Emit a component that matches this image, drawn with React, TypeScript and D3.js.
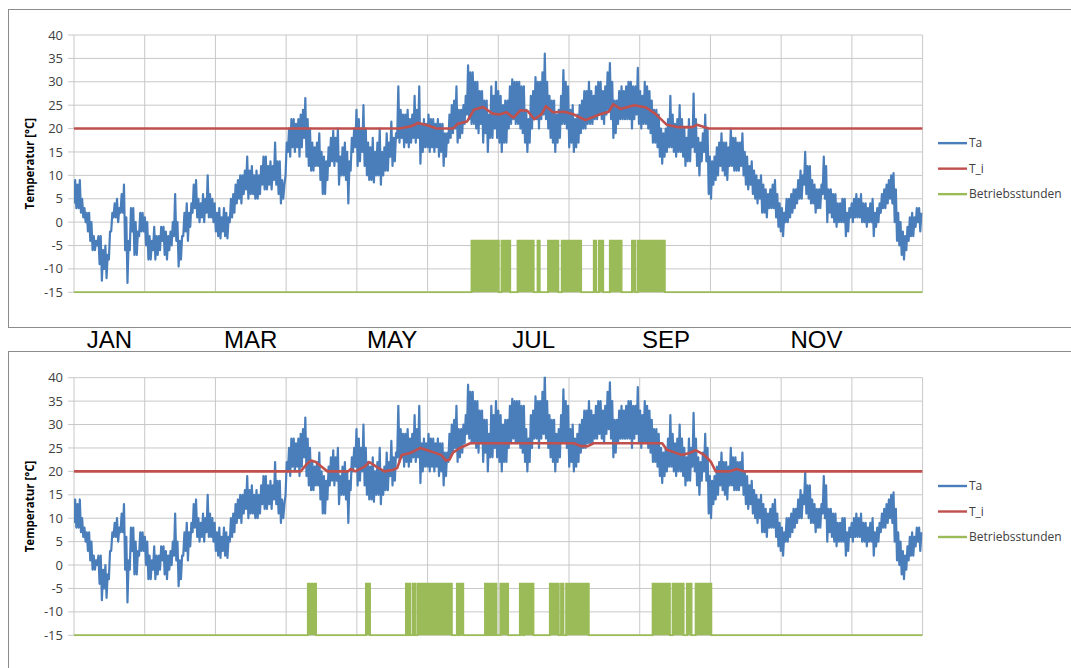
import * as d3 from 'd3'
import React from 'react'

const WIDTH = 1071
const HEIGHT = 668

const Y_TICKS = [-15, -10, -5, 0, 5, 10, 15, 20, 25, 30, 35, 40]
const MONTH_LABELS = [
  { month: 0, label: 'JAN', nudge: 0 },
  { month: 2, label: 'MAR', nudge: 0 },
  { month: 4, label: 'MAY', nudge: 0 },
  { month: 6, label: 'JUL', nudge: 0 },
  { month: 8, label: 'SEP', nudge: -9 },
  { month: 10, label: 'NOV', nudge: 0 },
]
const SERIES_NAMES = ['Ta', 'T_i', 'Betriebsstunden']
const COLORS = { ta: '#4a7ebb', ti: '#c0504d', hours: '#9bbb59' }

// outdoor temperature, daily [low, high], reference year
const taJan = [[4, 9], [3, 8], [3, 9], [2, 5], [1, 3], [0, 2], [-2, 2], [-4, 0], [-6, -3], [-6, -4], [-5, -3], [-9, -3], [-12.5, -6], [-10, -5], [-12, -7], [-8, -2], [-2, 2], [1, 4], [1, 5], [0, 3], [2, 6], [2, 8], [-6, 1], [-13, -4], [-6, 3], [-2, 3], [-7, 0], [-7, -2], [-3, 2], [-2, 2], [-2, 1]]
const taFeb = [[-5, 0], [-8, -3], [-8, -4], [-6, -1], [-8, -3], [-7, -3], [-6, -1], [-4, -1], [-7, -2], [-8, -3], [-6, -2], [-5, 0], [-3, 6], [-4, 0], [-9.5, -4], [-8, -3], [-3, 2], [-2, 4], [-4, 2], [-1, 4], [2, 8], [3, 9], [1, 5], [0, 4], [1, 6], [0, 5], [2, 10], [1, 6], [1, 5]]
const taMar = [[0, 4], [-2, 2], [-3, 3], [-3.5, 1], [-2, 3], [-3, 2], [-3.5, 1], [0, 5], [1, 6], [2, 8], [4, 9], [5, 10], [4, 10], [6, 11], [7, 14], [5, 11], [6, 12], [6, 10], [5, 11], [5, 10], [6, 12], [8, 14], [7, 14], [7, 12], [8, 13], [7, 12], [9, 17], [8, 13], [6, 13], [4, 9], [5, 8]]
const taApr = [[10, 17], [15, 20], [14, 22], [16, 22], [15, 21], [16, 22], [14, 23], [16, 24], [18, 26.5], [14, 22], [12, 20], [11, 17], [11, 16], [12, 17], [12, 19], [9, 15], [6, 14], [6, 13], [9, 16], [12, 18], [13, 19.5], [12, 18], [13, 20], [8, 14], [10, 16], [10, 17], [9, 15], [4, 13], [11, 18], [15, 20]]
const taMay = [[16, 24], [12, 22], [13, 20], [15, 25], [12, 20], [10, 17], [9, 16], [9, 18], [8.5, 15], [10, 17], [10, 20], [8, 15], [10, 16], [11, 19], [11, 17], [14, 21.5], [12, 18], [13, 19], [18, 29], [17, 24], [18, 23], [16, 23], [17, 24], [16, 22], [17, 23], [18, 27], [17, 24], [18, 29], [12.5, 21], [15, 22], [16, 21]]
const taJun = [[16, 23], [15, 22], [16, 22], [15, 21], [16, 22], [14, 21], [15, 21], [12, 19], [14, 19], [17, 23], [18, 25], [19, 26], [20, 29], [17, 24], [18, 24], [19, 25], [21, 27], [23, 33.5], [22, 32], [21, 32], [21, 30], [20, 30], [19, 28], [21, 28], [17, 26], [19, 26], [15, 23], [18, 29], [18, 27], [20, 30]]
const taJul = [[18, 28], [17, 27], [15, 25], [17, 26], [17, 26], [20, 29], [21, 30.5], [22, 30], [21, 30], [21, 30], [20, 29], [19, 29], [17, 24], [15, 22], [17, 27], [20, 28], [22, 31], [22, 30], [20, 30], [22, 32], [23, 36], [22, 30], [20, 27], [18, 26], [17, 26], [15, 23], [17, 24], [18, 27], [21, 32.5], [21, 30], [20, 29]]
const taAug = [[16, 24], [17, 25], [15, 22], [16, 23], [17, 25], [19, 26], [20, 28], [20, 28], [21, 30], [21, 28], [21, 27], [22, 29], [22, 30], [23, 30], [22, 28], [21, 29], [23, 32], [24, 34], [22, 30], [18, 26], [19, 26], [21, 28], [22, 29], [22, 28], [22, 29], [22, 30], [22, 30], [20, 29], [22, 29], [23, 33], [21, 28]]
const taSep = [[20, 27], [21, 30], [21, 29], [20, 28], [19, 26], [17, 24], [17, 24], [16, 23], [14, 20], [12.5, 19], [14, 20], [15, 22], [16, 27], [16, 23], [15, 21], [14, 22], [15, 25], [15, 22], [14, 20], [12, 18], [13, 22], [13, 20], [16, 27.5], [15, 22], [12, 18], [10, 17], [13, 19], [15, 23], [13, 20], [6, 14]]
const taOct = [[5, 13], [8, 14], [9, 16], [10, 17], [12, 19], [11, 17], [10, 17], [9, 16], [12, 20], [12, 18], [11, 18], [11, 17], [11, 17], [12, 19], [10, 15], [8, 14], [7, 12], [8, 13], [6, 11], [5, 10], [4, 9], [5, 10], [2, 8], [2, 7], [1, 6], [3, 7], [3, 8], [3, 9], [1, 6], [-1, 4], [-2, 3]]
const taNov = [[-3, 2], [0, 5], [0, 5], [1, 6], [2, 7], [3, 7], [4, 9], [5, 11], [5, 10], [8, 15], [6, 12], [5, 12], [4, 9], [4, 8], [2, 7], [3, 7], [3, 8], [6, 14], [5, 12], [0, 7], [2, 7], [1, 6], [0, 6], [-1, 4], [0, 4], [0, 5], [0, 5], [-3, 2], [-2, 3], [1, 4]]
const taDec = [[0, 5], [1, 6], [1, 5], [1, 6], [0, 4], [0, 4], [-1, 3], [0, 4], [0, 5], [-3, 2], [-1, 3], [0, 4], [2, 6], [3, 7], [3, 8], [4, 9], [5, 10], [4, 10.5], [0, 7], [-4, 2], [-5, 0], [-7, -2], [-8, -3], [-6, -1], [-4, 1], [-3, 2], [-3, 1], [-1, 3], [0, 3], [-2, 2]]

const TA_REFERENCE = [
  ...taJan, ...taFeb, ...taMar, ...taApr, ...taMay, ...taJun,
  ...taJul, ...taAug, ...taSep, ...taOct, ...taNov, ...taDec,
]
// the lower chart is the same year shifted by +5 K
const TA_SHIFT_WARM = 5

// indoor temperature [day, °C]
const TI_TOP = [
  [0, 20], [140, 20], [145, 20.5], [148, 21.2], [152, 20.7], [156, 20], [163, 20], [165, 21], [169, 21.5],
  [172, 24], [176, 24.6], [180, 23.2], [183, 23], [186, 23.5], [189, 22.3], [192, 23.9], [195, 23.8],
  [198, 22], [201, 23], [203, 24.8], [206, 23.5], [211, 23.6], [215, 23], [220, 21.8], [226, 23],
  [230, 23.6], [232, 25.2], [235, 24.2], [241, 25], [246, 24.5], [250, 23.2], [255, 20.8], [260, 20.3],
  [266, 20.3], [268, 20.8], [273, 20], [365, 20],
]
const TI_BOTTOM = [
  [0, 20], [97.5, 20], [100, 21.5], [102, 22.3], [104, 22], [106.5, 21], [109, 20], [118, 20], [119, 20.5],
  [121, 20], [125, 21], [127, 22], [130, 21], [133.5, 20], [137, 20.3], [139, 20.7], [141, 23.5], [145, 24],
  [149, 25], [152, 24.5], [155, 24], [158, 23.5], [160, 22.3], [161.5, 22.5], [163, 24], [166, 25],
  [170.5, 26], [215, 26], [218, 25.4], [221, 25.4], [223.5, 26], [253, 26], [255, 24.6], [258.5, 24],
  [261.5, 23.5], [265, 24], [267.5, 24.5], [270.5, 23.7], [272.5, 22.8], [274, 22], [276, 20], [282, 20],
  [285, 20.5], [288, 20], [365, 20],
]

// operating periods of the cooling unit [start day, end day]
const HOURS_TOP = [
  [171, 182.7], [183.9, 187.6], [190.8, 197.7], [199.4, 200.3], [203.9, 208.3], [209.8, 218.1],
  [223.6, 224.6], [225.8, 227.6], [230.5, 235.5], [240, 241.4], [242.5, 254.1],
]
const HOURS_BOTTOM = [
  [100.6, 104.1], [125.6, 127.3], [142.8, 143.4], [144.1, 144.7], [145.8, 146.7], [147.7, 162.5],
  [164.7, 165.6], [166.2, 167.4], [176.8, 177.6], [178.3, 179.1], [179.8, 180.4], [181.1, 181.7],
  [183.4, 186.7], [191.8, 192.9], [193.5, 197.6], [204.7, 208.5], [209.5, 210.5], [211.7, 221.4],
  [248.9, 256.3], [257.5, 262.2], [263.6, 265.6], [267.4, 274.1],
]
const HOURS_ON = -4
const HOURS_OFF = -15

const PLOT_LEFT = 74
const PLOT_RIGHT = 922.6
const FONT = '"Open Sans", "Liberation Sans", sans-serif'

const Panel = ({ id, top, bottom, frameTop, frameBottom, ta, ti, hours }) => {
  const x = d3.scaleLinear().domain([0, 365]).range([PLOT_LEFT, PLOT_RIGHT])
  const y = d3.scaleLinear().domain([-15, 40]).range([bottom, top])

  const monthLines = d3.range(0, 13).map(m => x((m * 365) / 12))

  // each day: the low in the first half, the high in the second half
  const taPoints = ta.flatMap(([lo, hi], i) => [
    [i, lo],
    [i + 0.5, hi],
  ])
  const taLine = d3
    .line()
    .x(d => x(d[0]))
    .y(d => y(d[1]))

  const tiLine = d3
    .line()
    .x(d => x(d[0]))
    .y(d => y(d[1]))

  const hourPoints = [[0, HOURS_OFF]]
  hours.forEach(([s, e]) => {
    hourPoints.push([s, HOURS_OFF], [s, HOURS_ON], [e, HOURS_ON], [e, HOURS_OFF])
  })
  hourPoints.push([365, HOURS_OFF])

  const hourArea = d3
    .area()
    .x(d => x(d[0]))
    .y0(y(HOURS_OFF))
    .y1(d => y(d[1]))

  const legendY = (top + bottom) / 2 + 5
  const legendRows = [
    { name: SERIES_NAMES[0], color: COLORS.ta },
    { name: SERIES_NAMES[1], color: COLORS.ti },
    { name: SERIES_NAMES[2], color: COLORS.hours },
  ]

  return (
    <g>
      <rect
        x={8.5}
        y={frameTop}
        width={1100}
        height={frameBottom - frameTop}
        fill="#fff"
        stroke="#8c8c8c"
        strokeWidth={1}
      />
      <defs>
        <clipPath id={`clip-${id}`}>
          <rect x={PLOT_LEFT} y={top - 1} width={PLOT_RIGHT - PLOT_LEFT} height={bottom - top + 2} />
        </clipPath>
      </defs>

      {/* grid */}
      {Y_TICKS.map(t => (
        <line key={t} x1={PLOT_LEFT - 6} x2={PLOT_RIGHT} y1={y(t)} y2={y(t)} stroke="#c8c8c8" strokeWidth={1} />
      ))}
      {monthLines.map((mx, i) => (
        <line key={i} x1={mx} x2={mx} y1={top} y2={bottom} stroke="#c8c8c8" strokeWidth={1} />
      ))}

      {/* y axis */}
      {Y_TICKS.map(t => (
        <text
          key={t}
          x={63}
          y={y(t)}
          dy="0.35em"
          textAnchor="end"
          fontFamily={FONT}
          fontSize={13}
          fill="#404040"
        >
          {t}
        </text>
      ))}
      <text
        transform={`translate(30,${(top + bottom) / 2}) rotate(-90)`}
        textAnchor="middle"
        dy="0.35em"
        fontFamily={FONT}
        fontSize={11.5}
        fontWeight="bold"
        fill="#000"
      >
        Temperatur [°C]
      </text>

      {/* series */}
      <g clipPath={`url(#clip-${id})`}>
        <path
          d={taLine(taPoints)}
          fill="none"
          stroke={COLORS.ta}
          strokeWidth={2.2}
          strokeLinejoin="round"
        />
        <path d={tiLine(ti)} fill="none" stroke={COLORS.ti} strokeWidth={2.6} strokeLinejoin="round" />
        <path d={hourArea(hourPoints)} fill={COLORS.hours} stroke="none" />
        <path
          d={d3.line()(hourPoints.map(d => [x(d[0]), y(d[1])]))}
          fill="none"
          stroke={COLORS.hours}
          strokeWidth={2}
        />
      </g>

      {/* legend */}
      {legendRows.map((r, i) => {
        const ly = legendY + (i - 1) * 25.5
        return (
          <g key={r.name}>
            <line x1={938} x2={967} y1={ly} y2={ly} stroke={r.color} strokeWidth={2.4} />
            <text x={969} y={ly} dy="0.35em" fontFamily={FONT} fontSize={12} fill="#404040">
              {r.name}
            </text>
          </g>
        )
      })}
    </g>
  )
}

export default function App() {
  const x = d3.scaleLinear().domain([0, 365]).range([PLOT_LEFT, PLOT_RIGHT])
  const taWarm = TA_REFERENCE.map(([lo, hi]) => [lo + TA_SHIFT_WARM, hi + TA_SHIFT_WARM])

  return (
    <svg
      width={WIDTH}
      height={HEIGHT}
      style={{ position: 'absolute', left: 0, top: 0, background: '#fff' }}
    >
      <rect width={WIDTH} height={HEIGHT} fill="#fff" />
      <Panel
        id="top"
        top={35}
        bottom={292.3}
        frameTop={9.5}
        frameBottom={327.5}
        ta={TA_REFERENCE}
        ti={TI_TOP}
        hours={HOURS_TOP}
      />
      <Panel
        id="bottom"
        top={377.7}
        bottom={635.3}
        frameTop={351.5}
        frameBottom={700}
        ta={taWarm}
        ti={TI_BOTTOM}
        hours={HOURS_BOTTOM}
      />
      {MONTH_LABELS.map(m => (
        <text
          key={m.label}
          x={x(((m.month + 0.5) * 365) / 12) + m.nudge}
          y={348.3}
          textAnchor="middle"
          fontFamily='"Liberation Sans", Arial, sans-serif'
          fontSize={24}
          fill="#000"
        >
          {m.label}
        </text>
      ))}
    </svg>
  )
}
